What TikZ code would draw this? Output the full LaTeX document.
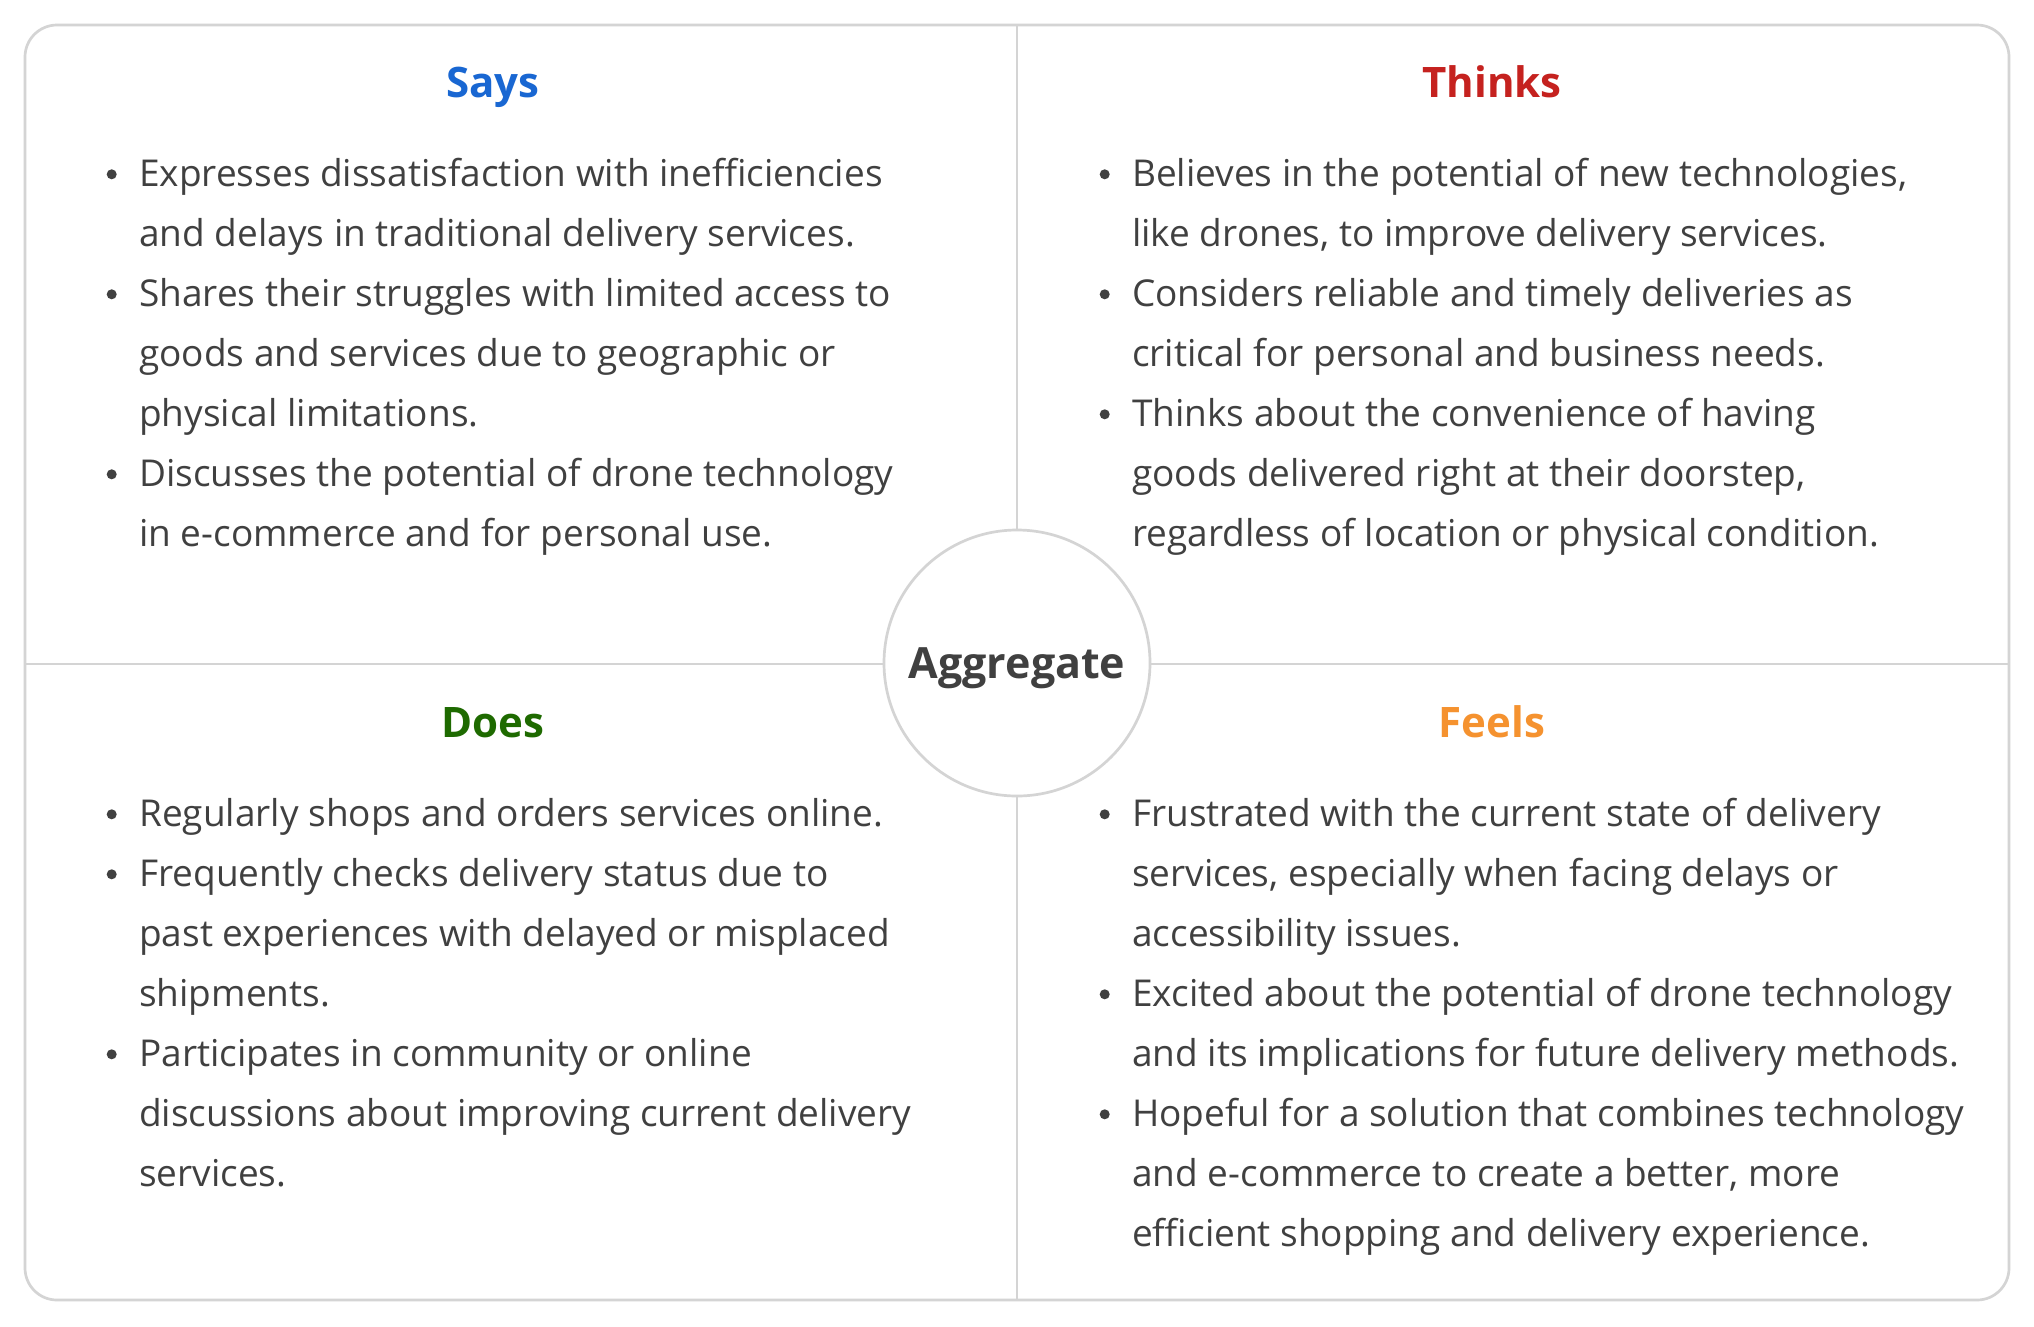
\documentclass[tikz,border=0pt]{standalone}
\usepackage{fontspec}
\setmainfont{Open Sans}
\definecolor{gridc}{HTML}{D4D4D4}
\definecolor{txtc}{HTML}{404040}
\definecolor{saysc}{HTML}{1967D2}
\definecolor{thinksc}{HTML}{C5221F}
\definecolor{doesc}{HTML}{1E6A00}
\definecolor{feelsc}{HTML}{F5922F}
\tikzset{
  txt/.style={inner sep=0pt, anchor=base west, text=txtc, font=\fontsize{37}{44}\selectfont},
  head/.style={inner sep=0pt, anchor=base, font=\fontsize{42}{48}\selectfont\bfseries},
  bdot/.style={circle, fill=txtc, inner sep=0pt, minimum size=10pt},
  gridline/.style={draw=gridc, line width=2.7pt},
}
\newcommand\bl[4]{\node[txt] (#1) at (#2,#3) {#4};}
\newcommand\bd[3]{\node[bdot] (#1) at ({#2-27.3},{#3-11.7}) {};}
\begin{document}
\begin{tikzpicture}[x=1pt,y=-1pt]
\useasboundingbox (0,0) rectangle (2034,1326);
\fill[white] (0,0) rectangle (2034,1326);
% frame and dividers
\coordinate (tl) at (25,25);
\coordinate (br) at (2009,1300);
\coordinate (tm) at (1017,25);
\coordinate (bm) at (1017,1300);
\coordinate (lm) at (25,664);
\coordinate (rm) at (2009,664);
\draw[gridline, rounded corners=32pt] (tl) rectangle (br);
\draw[gridline] (tm) -- (bm);
\draw[gridline] (lm) -- (rm);
\node[circle, draw=gridc, line width=2.7pt, fill=white, minimum size=266pt, inner sep=0pt] (agg) at (1017,663) {};
\node[inner sep=0pt, anchor=base, font=\fontsize{43}{50}\selectfont\bfseries, text=txtc] (aggtxt) at (1017,678) {Aggregate};
% headings
\node[head, text=saysc] (hsays) at (493,97) {Says};
\node[head, text=thinksc] (hthinks) at (1492,97) {Thinks};
\node[head, text=doesc] (hdoes) at (493,737) {Does};
\node[head, text=feelsc] (hfeels) at (1492,737) {Feels};
% Says
\bd{s1d}{139}{186}
\bl{s1}{139}{186}{Expresses dissatisfaction with inefficiencies}
\bl{s2}{139}{246}{and delays in traditional delivery services.}
\bd{s3d}{139}{306}
\bl{s3}{139}{306}{Shares their struggles with limited access to}
\bl{s4}{139}{366}{goods and services due to geographic or}
\bl{s5}{139}{426}{physical limitations.}
\bd{s6d}{139}{486}
\bl{s6}{139}{486}{Discusses the potential of drone technology}
\bl{s7}{139}{546}{in e-commerce and for personal use.}
% Thinks
\bd{t1d}{1132}{186}
\bl{t1}{1132}{186}{Believes in the potential of new technologies,}
\bl{t2}{1132}{246}{like drones, to improve delivery services.}
\bd{t3d}{1132}{306}
\bl{t3}{1132}{306}{Considers reliable and timely deliveries as}
\bl{t4}{1132}{366}{critical for personal and business needs.}
\bd{t5d}{1132}{426}
\bl{t5}{1132}{426}{Thinks about the convenience of having}
\bl{t6}{1132}{486}{goods delivered right at their doorstep,}
\bl{t7}{1132}{546}{regardless of location or physical condition.}
% Does
\bd{d1d}{139}{826}
\bl{d1}{139}{826}{Regularly shops and orders services online.}
\bd{d2d}{139}{886}
\bl{d2}{139}{886}{Frequently checks delivery status due to}
\bl{d3}{139}{946}{past experiences with delayed or misplaced}
\bl{d4}{139}{1006}{shipments.}
\bd{d5d}{139}{1066}
\bl{d5}{139}{1066}{Participates in community or online}
\bl{d6}{139}{1126}{discussions about improving current delivery}
\bl{d7}{139}{1186}{services.}
% Feels
\bd{f1d}{1132}{826}
\bl{f1}{1132}{826}{Frustrated with the current state of delivery}
\bl{f2}{1132}{886}{services, especially when facing delays or}
\bl{f3}{1132}{946}{accessibility issues.}
\bd{f4d}{1132}{1006}
\bl{f4}{1132}{1006}{Excited about the potential of drone technology}
\bl{f5}{1132}{1066}{and its implications for future delivery methods.}
\bd{f6d}{1132}{1126}
\bl{f6}{1132}{1126}{Hopeful for a solution that combines technology}
\bl{f7}{1132}{1186}{and e-commerce to create a better, more}
\bl{f8}{1132}{1246}{efficient shopping and delivery experience.}
\end{tikzpicture}
\end{document}
